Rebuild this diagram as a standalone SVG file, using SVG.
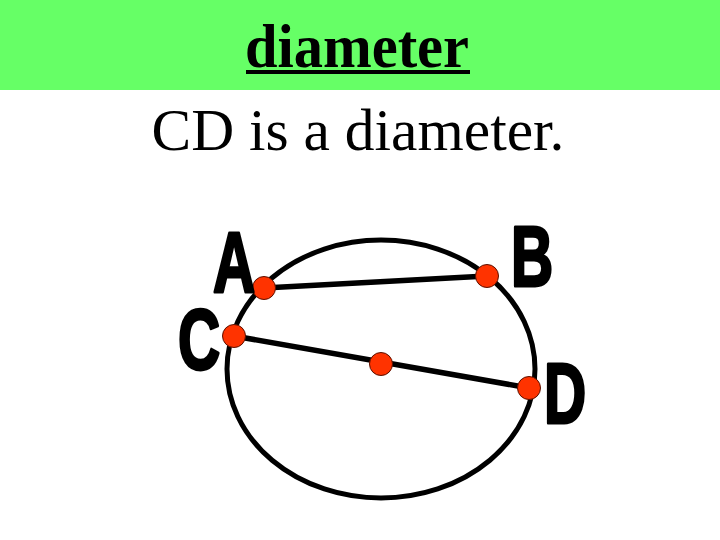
<svg xmlns="http://www.w3.org/2000/svg" width="720" height="540" viewBox="0 0 720 540">
<style>
.ttl{font-family:"Liberation Serif","Times New Roman",serif;fill:#000}
.lbl{font-family:"Liberation Sans Narrow","Liberation Sans","DejaVu Sans Condensed",sans-serif;font-weight:bold;font-size:86px;fill:#000;stroke:#000;stroke-width:3;stroke-linejoin:round}
.seg{stroke:#000;stroke-width:5.5;stroke-linecap:round}
.pt{fill:#ff3300;stroke:#5a1000;stroke-width:1}
</style>
<rect x="0" y="0" width="720" height="540" fill="#fff"/>
<rect x="0" y="0" width="720" height="90" fill="#66ff66"/>
<text class="ttl" x="357" y="67" font-size="62" font-weight="bold" text-anchor="middle" textLength="224" lengthAdjust="spacingAndGlyphs">diameter</text>
<rect x="246" y="70" width="224" height="4" fill="#000"/>
<text class="ttl" x="358" y="150" font-size="59" text-anchor="middle" textLength="413" lengthAdjust="spacingAndGlyphs">CD is a diameter.</text>
<g id="circle">
<ellipse cx="381" cy="369" rx="154" ry="129" fill="none" stroke="#000" stroke-width="5"/>
</g>
<g id="connectors">
<line class="seg" x1="264" y1="288" x2="487" y2="276"/>
<line class="seg" x1="234" y1="336" x2="529" y2="388"/>
</g>
<g id="A"><circle class="pt" cx="264" cy="288" r="11.5"/><text class="lbl" transform="translate(213,292) scale(0.68,1)">A</text></g>
<g id="B"><circle class="pt" cx="487" cy="276" r="11.5"/><text class="lbl" transform="translate(511,286) scale(0.68,1)">B</text></g>
<g id="C"><circle class="pt" cx="234" cy="336" r="11.5"/><text class="lbl" transform="translate(178,369) scale(0.68,1)">C</text></g>
<g id="O"><circle class="pt" cx="381" cy="364" r="11.5"/></g>
<g id="D"><circle class="pt" cx="529" cy="388" r="11.5"/><text class="lbl" transform="translate(544,423) scale(0.68,1)">D</text></g>
</svg>
